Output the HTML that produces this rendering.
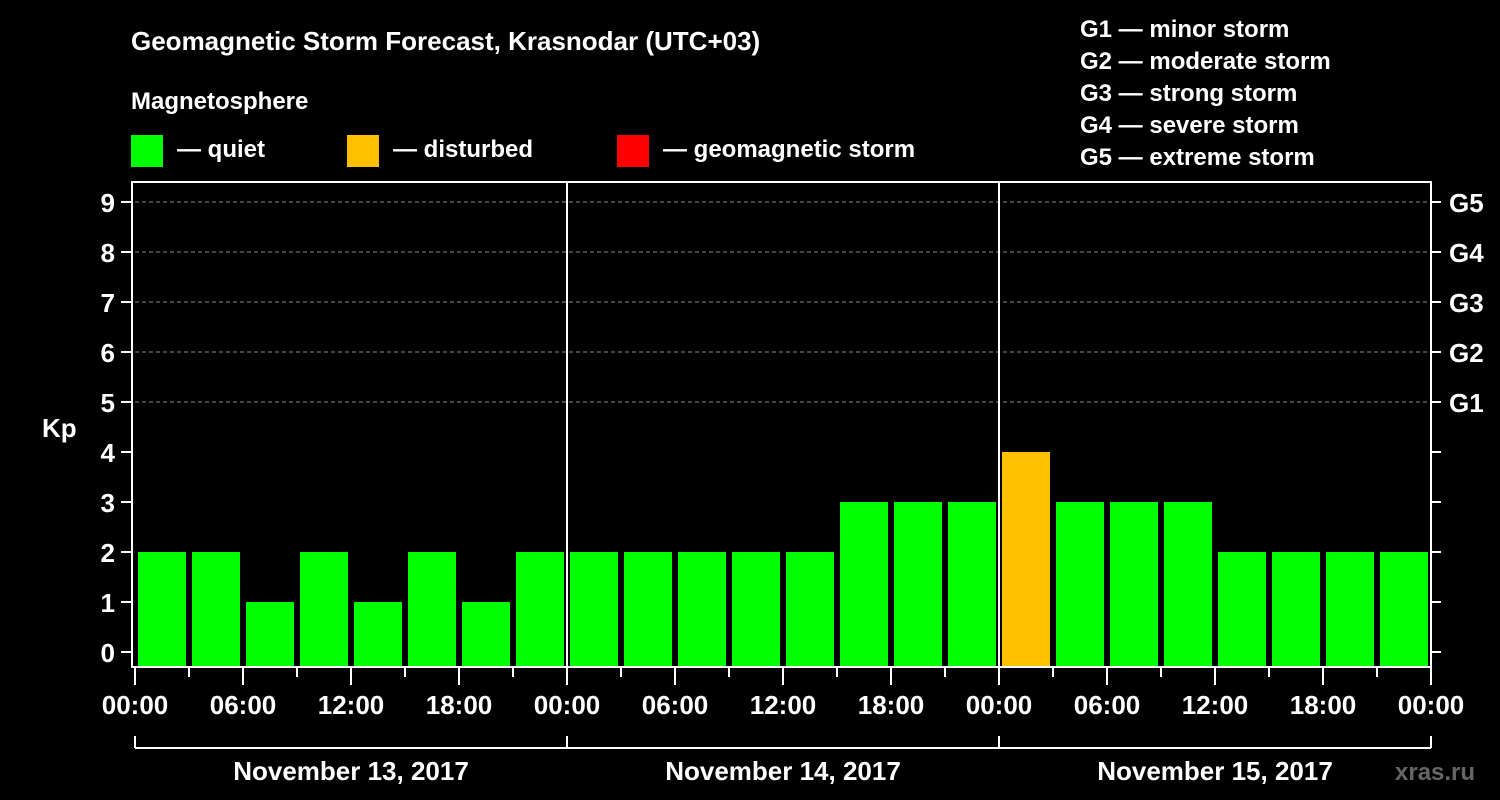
<!DOCTYPE html>
<html><head><meta charset="utf-8"><style>
body{margin:0;background:#000;}
svg{display:block;font-family:"Liberation Sans",Arial,sans-serif;font-weight:bold;}
</style></head><body>
<svg id="chart" width="1500" height="800" viewBox="0 0 1500 800">
<rect width="1500" height="800" fill="#000"/>
<text x="131" y="50" fill="#fff" font-size="26">Geomagnetic Storm Forecast, Krasnodar (UTC+03)</text>
<text x="131" y="109" fill="#fff" font-size="24">Magnetosphere</text>
<g><rect x="131" y="135" width="32" height="32" fill="#00ff00"/><text x="177" y="157" fill="#fff" font-size="24">— quiet</text></g>
<g><rect x="347" y="135" width="32" height="32" fill="#ffc000"/><text x="393" y="157" fill="#fff" font-size="24">— disturbed</text></g>
<g><rect x="617" y="135" width="32" height="32" fill="#ff0000"/><text x="663" y="157" fill="#fff" font-size="24">— geomagnetic storm</text></g>
<g fill="#fff" font-size="24">
<text x="1080" y="37">G1 — minor storm</text>
<text x="1080" y="69">G2 — moderate storm</text>
<text x="1080" y="101">G3 — strong storm</text>
<text x="1080" y="133">G4 — severe storm</text>
<text x="1080" y="165">G5 — extreme storm</text>
</g>
<g id="grid"></g><g id="bars"></g><g id="axes"></g>
<text x="42" y="437" fill="#fff" font-size="26">Kp</text>
<text x="1395" y="780" fill="#666" font-size="24">xras.ru</text>
</svg>
<script>
const kpValues=[2,2,1,2,1,2,1,2, 2,2,2,2,2,3,3,3, 4,3,3,3,2,2,2,2];
const yTicks=[0,1,2,3,4,5,6,7,8,9];
const gLabels=["G1","G2","G3","G4","G5"];
const gLevels=[5,6,7,8,9];
const hourLabels=["00:00","06:00","12:00","18:00"];
const dayLabels=["November 13, 2017","November 14, 2017","November 15, 2017"];
const NS="http://www.w3.org/2000/svg";
const X0=135,X1=1431,Y0=652,UNIT=50,TOP=182,BOT=667;
const slot=(X1-X0)/kpValues.length;
const x=i=>X0+i*slot, y=v=>Y0-v*UNIT;
function mk(tag,attrs,parent,txt){const e=document.createElementNS(NS,tag);for(const k in attrs)e.setAttribute(k,attrs[k]);if(txt!==undefined)e.textContent=txt;document.getElementById(parent).appendChild(e);return e;}
const color=v=>v>=5?"#ff0000":v>=4?"#ffc000":"#00ff00";
gLevels.forEach((lv,i)=>{
 const l=mk("line",{x1:X0,x2:X1,y1:y(lv),y2:y(lv),stroke:"#888","stroke-dasharray":"4,3","stroke-width":1},"grid");
 
 
 const t=mk("text",{x:1449,y:y(lv)+10,fill:"#fff","font-size":26},"axes",gLabels[i]);
 
 
});
kpValues.forEach((v,i)=>{
 const r=mk("rect",{x:x(i)+3,y:y(v),width:slot-6,height:BOT-y(v),fill:color(v)},"bars");
 
 
});
const frame=mk("rect",{x:X0-3,y:TOP,width:X1-X0+3,height:BOT-TOP,fill:"none",stroke:"#fff","stroke-width":2},"axes");


for(let d=1;d<dayLabels.length;d++){
 const l=mk("line",{x1:x(d*8),x2:x(d*8),y1:TOP,y2:BOT,stroke:"#fff","stroke-width":2},"axes");
 
 
}
yTicks.forEach(v=>{
 mk("line",{x1:X0-14,x2:X0-3,y1:y(v),y2:y(v),stroke:"#fff","stroke-width":2},"axes");
 mk("line",{x1:X1,x2:X1+10,y1:y(v),y2:y(v),stroke:"#fff","stroke-width":2},"axes");
 const t=mk("text",{x:X0-20,y:y(v)+10,fill:"#fff","font-size":26,"text-anchor":"end"},"axes",v);
 
 
});
for(let i=0;i<=kpValues.length;i++){
 const major=i%2===0;
 mk("line",{x1:x(i),x2:x(i),y1:BOT,y2:major?BOT+18:BOT+10,stroke:"#fff","stroke-width":2},"axes");
 if(major){
  const t=mk("text",{x:x(i),y:714,fill:"#fff","font-size":26,"text-anchor":"middle"},"axes",hourLabels[(i/2)%4]);
  
  
 }
}
mk("line",{x1:x(0),x2:x(kpValues.length),y1:748,y2:748,stroke:"#fff","stroke-width":2},"axes");
for(let d=0;d<=dayLabels.length;d++) mk("line",{x1:x(d*8),x2:x(d*8),y1:736,y2:748,stroke:"#fff","stroke-width":2},"axes");
dayLabels.forEach((lab,d)=>{
 const t=mk("text",{x:(x(d*8)+x(d*8+8))/2,y:780,fill:"#fff","font-size":26,"text-anchor":"middle"},"axes",lab);
 
 
});
</script>
</body></html>
